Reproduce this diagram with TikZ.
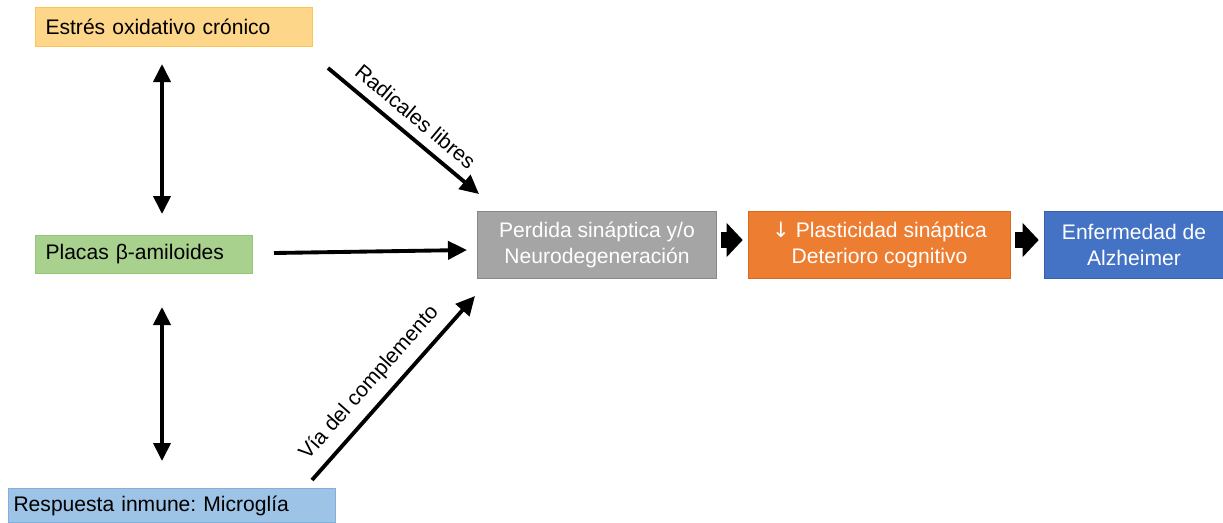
\documentclass[tikz,border=0pt]{standalone}
\usepackage{fontspec}
\setmainfont{Liberation Sans}
\newfontfamily\symfont{DejaVu Sans}
\usetikzlibrary{arrows.meta}
\frenchspacing

\definecolor{estres}{RGB}{253,214,137}
\definecolor{estresline}{RGB}{247,198,86}
\definecolor{placas}{RGB}{169,209,142}
\definecolor{placasline}{RGB}{150,195,120}
\definecolor{inmune}{RGB}{157,195,230}
\definecolor{inmuneline}{RGB}{130,175,220}
\definecolor{perdida}{RGB}{165,165,165}
\definecolor{perdidaline}{RGB}{135,135,135}
\definecolor{plasti}{RGB}{237,125,49}
\definecolor{plastiline}{RGB}{215,105,35}
\definecolor{alzh}{RGB}{68,114,196}
\definecolor{alzhline}{RGB}{55,95,170}

\tikzset{
  box/.style={draw, line width=0.6pt, anchor=north west, inner xsep=0pt, inner ysep=0pt, font=\fontsize{12}{14.5}\selectfont},
  causebox/.style={box, text=black, align=left},
  stagebox/.style={box, text=white, align=center, minimum height=1.34cm},
  link/.style={line width=2.2pt, -{Triangle[length=0.38cm, width=0.36cm]}},
  bothlink/.style={line width=2.2pt, {Triangle[length=0.36cm, width=0.34cm]}-{Triangle[length=0.36cm, width=0.34cm]}},
  fatlink/.style={line width=0.32cm, -{Triangle[length=0.32cm, width=0.66cm]}, shorten <=2pt, shorten >=3pt},
  label/.style={font=\fontsize{12}{14.5}\selectfont, sloped}
}

\begin{document}
\begin{tikzpicture}[x=0.02cm, y=-0.02cm]
\useasboundingbox (0,0) rectangle (1223,522);

% Causes
\node[causebox, fill=estres, draw=estresline, minimum width=5.54cm, minimum height=0.78cm, text width=5.14cm]
  (estres) at (35,7) {Estrés oxidativo crónico};
\node[causebox, fill=placas, draw=placasline, minimum width=4.34cm, minimum height=0.76cm, text width=3.94cm]
  (placas) at (35,235) {Placas β-amiloides};
\node[causebox, fill=inmune, draw=inmuneline, minimum width=6.54cm, minimum height=0.68cm, text width=6.34cm]
  (inmune) at (8,488) {Respuesta inmune: Microglía};

% Stages
\node[stagebox, fill=perdida, draw=perdidaline, minimum width=4.78cm] (perdida) at (477,211)
  {Perdida sináptica y/o\\Neurodegeneración};
\node[stagebox, fill=plasti, draw=plastiline, minimum width=5.24cm] (plasti) at (748,211)
  {{\symfont↓} Plasticidad sináptica\\Deterioro cognitivo};
\node[stagebox, fill=alzh, draw=alzhline, minimum width=3.58cm] (alzh) at (1044,211)
  {Enfermedad de\\Alzheimer};

% Free ends
\coordinate (estresS) at (162,64);
\coordinate (placasN) at (162,214);
\coordinate (placasS) at (162,307);
\coordinate (inmuneN) at (162,461);
\coordinate (radA) at (328,68);
\coordinate (radB) at (479,194);
\coordinate (plaA) at (274,253);
\coordinate (plaB) at (467,250);
\coordinate (viaA) at (312,480);
\coordinate (viaB) at (475,296);

% Arrows
\draw[bothlink] (estresS) -- (placasN);
\draw[bothlink] (placasS) -- (inmuneN);
\draw[link] (radA) -- node[label, above, yshift=2pt] {Radicales libres} (radB);
\draw[link] (plaA) -- (plaB);
\draw[link] (viaA) -- node[label, above, yshift=2pt, pos=0.45] {Vía del complemento} (viaB);
\draw[fatlink] (perdida.east |- 0,240) -- (plasti.west |- 0,240);
\draw[fatlink] (plasti.east |- 0,240) -- (alzh.west |- 0,240);

\end{tikzpicture}
\end{document}
